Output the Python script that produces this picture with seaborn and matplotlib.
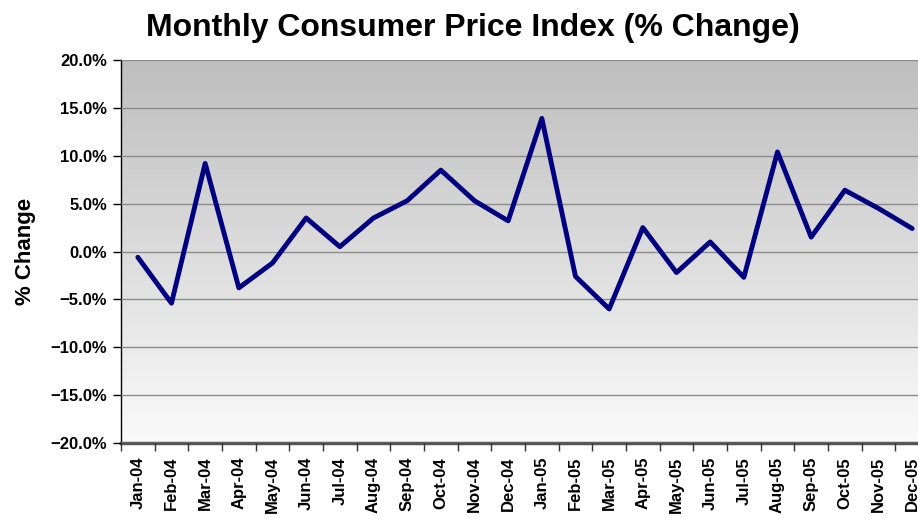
import numpy as np
import pandas as pd
import seaborn as sns
import matplotlib.pyplot as plt
from matplotlib.ticker import PercentFormatter, FixedLocator

#--- data ---
months = ['Jan-04', 'Feb-04', 'Mar-04', 'Apr-04', 'May-04', 'Jun-04',
          'Jul-04', 'Aug-04', 'Sep-04', 'Oct-04', 'Nov-04', 'Dec-04',
          'Jan-05', 'Feb-05', 'Mar-05', 'Apr-05', 'May-05', 'Jun-05',
          'Jul-05', 'Aug-05', 'Sep-05', 'Oct-05', 'Nov-05', 'Dec-05']
pct_change = [-0.6, -5.4, 9.2, -3.8, -1.2, 3.5, 0.5, 3.5, 5.3, 8.5, 5.3, 3.2,
              13.9, -2.6, -6.0, 2.5, -2.2, 1.0, -2.7, 10.4, 1.5, 6.4, 4.5, 2.4]
y_ticks = [-20, -15, -10, -5, 0, 5, 10, 15, 20]

df = pd.DataFrame({'pos': np.arange(len(months)), 'change': pct_change})

sns.set_style('white')
plt.rcParams['font.family'] = ['Liberation Sans', 'DejaVu Sans']
plt.rcParams['font.weight'] = 'bold'
plt.rcParams['text.color'] = 'black'
plt.rcParams['xtick.color'] = 'black'
plt.rcParams['ytick.color'] = 'black'
plt.rcParams['axes.labelcolor'] = 'black'

fig = plt.figure(figsize=(9.18, 5.19), dpi=100)
ax = fig.add_axes([121 / 918, 1 - 443 / 519, 808 / 918, 383 / 519])

# grey gradient background
grad = np.linspace(0, 1, 256).reshape(-1, 1)
ax.imshow(grad, cmap=plt.matplotlib.colors.LinearSegmentedColormap.from_list(
    'bg', ['#bebebe', '#fafafa']), extent=[0, 1, 0, 1], transform=ax.transAxes,
    aspect='auto', zorder=0)

sns.lineplot(data=df, x='pos', y='change', ax=ax, color='#000080',
             linewidth=3.5, zorder=3)

ax.set_xlim(-0.5, len(months) - 0.5)
ax.set_ylim(-20, 20)
ax.set_yticks(y_ticks)
ax.yaxis.set_major_formatter(PercentFormatter(decimals=1))
ax.grid(axis='y', color='#8c8c8c', linewidth=1, zorder=1)
ax.set_axisbelow(False)

ax.set_xticks(df['pos'])
ax.set_xticklabels(months, rotation=90, fontsize=12, fontweight='bold')
ax.xaxis.set_minor_locator(FixedLocator(np.arange(-0.5, len(months), 1)))
ax.tick_params(axis='x', which='major', length=0, pad=10)
ax.tick_params(axis='x', which='minor', length=6, width=1, color='#333333',
               direction='out', bottom=True)
ax.tick_params(axis='y', length=6, width=1, color='black', direction='out',
               left=True, labelsize=12, pad=4)
for lab in ax.get_yticklabels():
    lab.set_fontweight('bold')

for s in ['top', 'right']:
    ax.spines[s].set_visible(False)
ax.spines['left'].set_color('black')
ax.spines['left'].set_linewidth(1)
ax.spines['bottom'].set_color('#555555')
ax.spines['bottom'].set_linewidth(2.5)

ax.set_xlabel('')
ax.set_ylabel('% Change', fontsize=16, fontweight='bold', labelpad=10)
fig.text(473 / 918, 1 - 28 / 519, 'Monthly Consumer Price Index (% Change)',
         ha='center', va='center', fontsize=23, fontweight='bold')

fig.savefig('out.png', dpi=100)
